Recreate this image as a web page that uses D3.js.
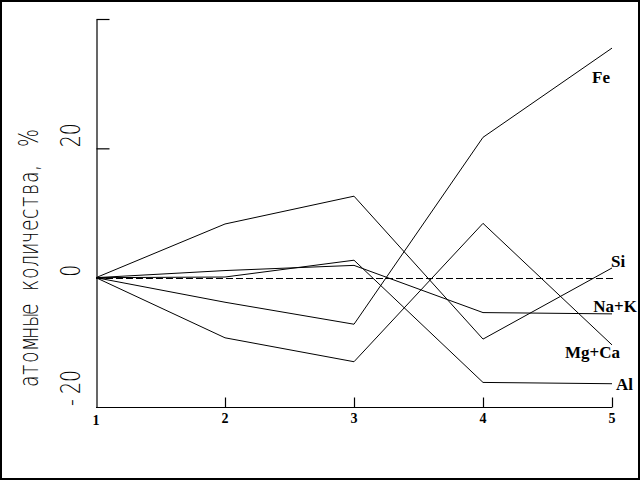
<!DOCTYPE html>
<html>
<head>
<meta charset="utf-8">
<script src="https://cdn.jsdelivr.net/npm/d3@7/dist/d3.min.js"></script>
<style>
  html, body { margin: 0; padding: 0; background: #fff; }
  svg { display: block; }
</style>
</head>
<body>
<svg id="chart" width="640" height="480"></svg>
<script>
// ---- data ----
const categories = [1, 2, 3, 4, 5];
const seriesNames = ["Fe", "Si", "Na+K", "Mg+Ca", "Al"];
const feValues   = [0, -3.8, -7.2, 21.7, 35.5];
const siValues   = [0, 8.3, 12.6, -9.5, 1.5];
const nakValues  = [0, 1.1, 1.9, -5.4, -5.6];
const mgcaValues = [0, -9.3, -13.0, 8.4, -10.4];
const alValues   = [0, 0.1, 2.7, -16.2, -16.4];
const yTickValues = [-20, 0, 20];
const yTickMarks = [0, 20, 40];
const xTickLabels = ["1", "2", "3", "4", "5"];
const yTitle = "атомные количества, %";

// ---- layout ----
const svg = d3.select("#chart");
const x = d3.scaleLinear().domain([1, 5]).range([96, 612]);
const y = d3.scaleLinear().domain([-20, 40]).range([407, 19]);

// outer frame
svg.append("rect").attr("x", 1).attr("y", 1).attr("width", 638).attr("height", 478)
  .attr("fill", "none").attr("stroke", "#000").attr("stroke-width", 2);

// zero reference dashed line
svg.append("line")
  .attr("x1", x(1)).attr("x2", x(5) + 2)
  .attr("y1", Math.round(y(0)) + 0.5).attr("y2", Math.round(y(0)) + 0.5)
  .attr("stroke", "#000").attr("stroke-width", 1).attr("stroke-dasharray", "7,3");

// y axis (ticks pointing inward)
const yAxis = svg.append("g").attr("transform", "translate(96.5,0)")
  .call(d3.axisLeft(y).tickValues(yTickMarks).tickSize(-13).tickSizeOuter(0).tickFormat(""));
// x axis (ticks pointing upward)
const xAxis = svg.append("g").attr("transform", `translate(0,${Math.round(y(-20)) + 0.5})`)
  .call(d3.axisBottom(x).tickValues(categories.slice(1)).tickSize(-10).tickSizeOuter(0).tickFormat(""));
[yAxis, xAxis].forEach(g => {
  g.selectAll("path, line").attr("stroke", "#000").attr("stroke-width", 1.2);
});
xAxis.select(".domain").attr("d", `M${x(1)},0H${x(5)}`);

// y tick labels (rotated, monospaced look)
const pitch = 12, sx = 0.7;
function monoText(g, str, tx, ty, size) {
  const chars = Array.from(str);
  g.append("text")
    .attr("transform", `translate(${tx},${ty}) rotate(-90) scale(${sx},1)`)
    .attr("x", chars.map((c, i) => (i * pitch + 1) / sx).join(" "))
    .attr("y", 0)
    .attr("font-family", "'DejaVu Sans', sans-serif")
    .attr("font-weight", 200)
    .attr("font-size", size)
    .attr("fill", "#000")
    .text(str);
}
yTickValues.forEach(v => {
  monoText(svg, (v < 0 ? "-" : "") + Math.abs(v), 80, y(v), 27);
});
// y title
monoText(svg, yTitle, 38, 388, 27);

// x tick labels
svg.append("g").selectAll("text").data(categories).join("text")
  .attr("x", d => x(d))
  .attr("y", (d, i) => i === 0 ? 425 : 423)
  .attr("text-anchor", "middle")
  .attr("font-family", "'Liberation Serif', 'Times New Roman', serif")
  .attr("font-weight", "bold")
  .attr("font-size", 14)
  .attr("fill", "#000")
  .text((d, i) => xTickLabels[i]);

// series lines
const allValues = [feValues, siValues, nakValues, mgcaValues, alValues];
const line = d3.line().x((d, i) => x(categories[i])).y(d => y(d));
svg.append("g").selectAll("path").data(allValues).join("path")
  .attr("d", d => line(d))
  .attr("fill", "none")
  .attr("stroke", "#000")
  .attr("stroke-width", 1);

// series labels near line ends
const labelOffsets = {
  "Fe":    { dx: -20, dy: 35, anchor: "start" },
  "Si":    { dx: -1,  dy: -1, anchor: "start" },
  "Na+K":  { dx: 25,  dy: -2, anchor: "end" },
  "Mg+Ca": { dx: 8,   dy: 13, anchor: "end" },
  "Al":    { dx: 4,   dy: 6,  anchor: "start" }
};
svg.append("g").selectAll("text").data(seriesNames).join("text")
  .attr("x", (d, i) => x(5) + labelOffsets[d].dx)
  .attr("y", (d, i) => y(allValues[i][4]) + labelOffsets[d].dy)
  .attr("text-anchor", d => labelOffsets[d].anchor)
  .attr("font-family", "'Liberation Serif', 'Times New Roman', serif")
  .attr("font-weight", "bold")
  .attr("font-size", 17)
  .attr("fill", "#000")
  .text(d => d);
</script>
</body>
</html>
